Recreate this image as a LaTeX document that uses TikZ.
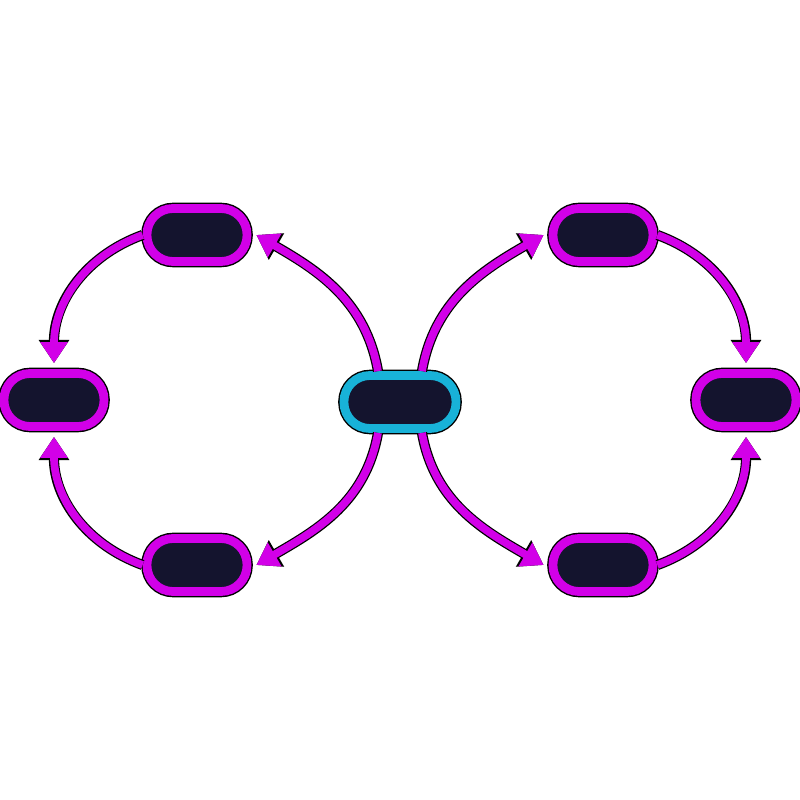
\documentclass[tikz,border=0pt]{standalone}
\usetikzlibrary{arrows.meta}

\definecolor{loopmag}{RGB}{210,0,232}
\definecolor{hubcyan}{RGB}{24,178,216}
\definecolor{pillnavy}{RGB}{20,20,46}

\begin{document}
\begin{tikzpicture}[
    pill/.style={draw=loopmag, fill=pillnavy, line width=2.5pt,
      rounded corners=0.26cm, minimum width=1.0cm, minimum height=0.53cm,
      preaction={draw=black, line width=3.3pt}},
    hub/.style={pill, draw=hubcyan, minimum width=1.12cm},
    flow/.style={draw=loopmag, line width=2.2pt,
      -{Triangle[length=6pt,width=7.5pt]},
      preaction={draw=black, line width=2.9pt,
        -{Triangle[length=6.6pt,width=8.3pt]}}}
  ]
  \useasboundingbox (-4,-4) rectangle (4,4);

  \node [hub] (c) at (0,-0.02) {};

  \node [pill] (tl) at (-2.03,1.65) {};
  \node [pill] (l) at (-3.46,0) {};
  \node [pill] (bl) at (-2.03,-1.65) {};

  \node [pill] (tr) at (2.03,1.65) {};
  \node [pill] (r) at (3.46,0) {};
  \node [pill] (br) at (2.03,-1.65) {};

  % left loop
  \draw [flow] ([xshift=-0.22cm]c.north) to [out=100,in=-30] ([xshift=0.05cm]tl.east);
  \draw [flow] (tl.west) to [out=200,in=90] ([yshift=0.06cm]l.north);
  \draw [flow] (bl.west) to [out=160,in=-90] ([yshift=-0.06cm]l.south);
  \draw [flow] ([xshift=-0.22cm]c.south) to [out=-100,in=30] ([xshift=0.05cm]bl.east);

  % right loop
  \draw [flow] ([xshift=0.22cm]c.north) to [out=80,in=210] ([xshift=-0.05cm]tr.west);
  \draw [flow] (tr.east) to [out=-20,in=90] ([yshift=0.06cm]r.north);
  \draw [flow] (br.east) to [out=20,in=-90] ([yshift=-0.06cm]r.south);
  \draw [flow] ([xshift=0.22cm]c.south) to [out=-80,in=150] ([xshift=-0.05cm]br.west);
\end{tikzpicture}
\end{document}
